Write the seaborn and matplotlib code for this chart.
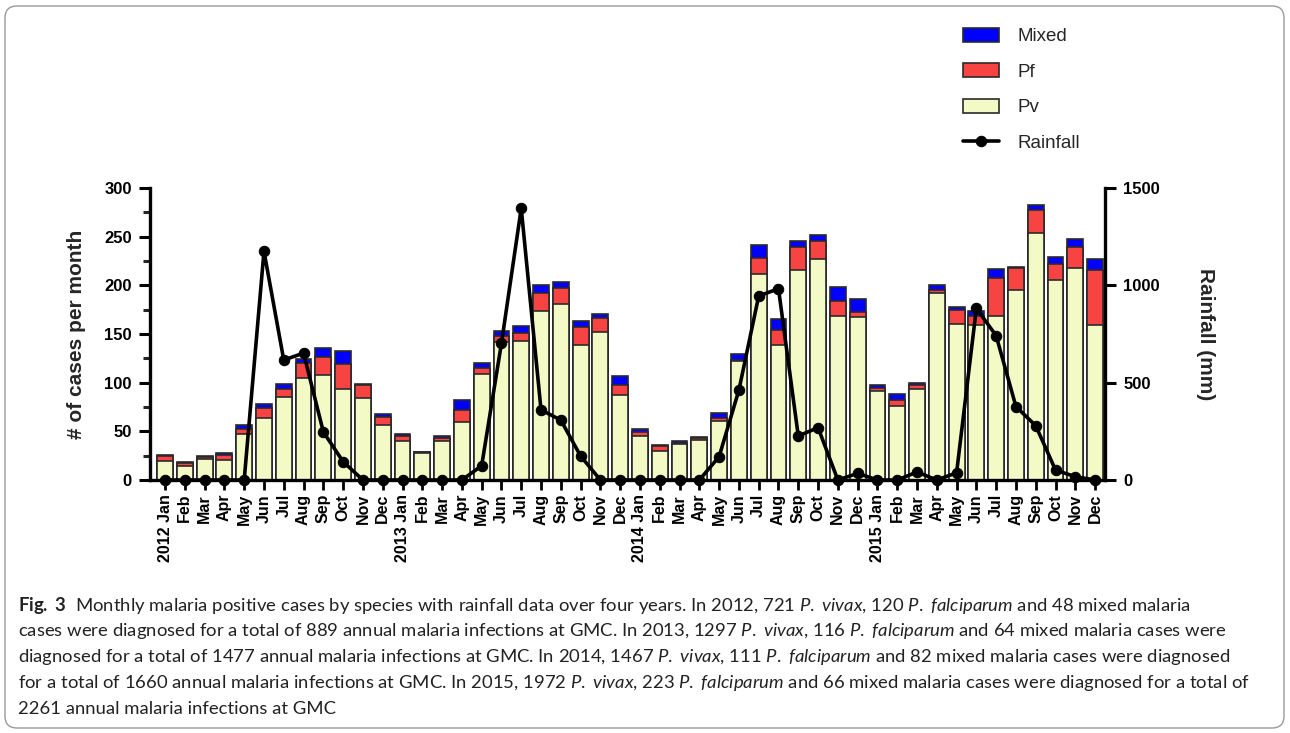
import numpy as np
import pandas as pd
import matplotlib
matplotlib.use("Agg")
import matplotlib.pyplot as plt
import seaborn as sns
from matplotlib.patches import FancyBboxPatch
from matplotlib.ticker import MultipleLocator

years = ["2012", "2013", "2014", "2015"]
months = ["Jan", "Feb", "Mar", "Apr", "May", "Jun",
          "Jul", "Aug", "Sep", "Oct", "Nov", "Dec"]

pv = [20, 14, 22, 21, 47, 64, 85, 105, 108, 93, 84, 56,
      40, 28, 40, 60, 109, 142, 143, 174, 181, 139, 152, 87,
      45, 30, 37, 41, 61, 122, 212, 139, 216, 227, 168, 167,
      91, 76, 94, 192, 160, 159, 168, 195, 254, 205, 218, 159]
pf = [5, 3, 2, 5, 5, 10, 9, 15, 18, 26, 14, 9,
      5, 1, 3, 12, 6, 6, 8, 18, 16, 18, 14, 11,
      4, 5, 1, 2, 3, 1, 16, 15, 23, 19, 16, 6,
      4, 6, 4, 3, 15, 10, 40, 23, 23, 17, 21, 57]
mixed = [1, 2, 1, 2, 4, 4, 5, 4, 10, 14, 1, 3,
         2, 0, 2, 10, 5, 5, 7, 8, 6, 6, 5, 9,
         3, 1, 2, 1, 5, 6, 13, 11, 7, 6, 14, 13,
         3, 6, 2, 5, 3, 5, 9, 1, 6, 7, 9, 11]
rainfall = [0, 0, 0, 0, 0, 1175, 616, 652, 247, 94, 0, 0,
            0, 0, 0, 0, 73, 702, 1396, 360, 308, 123, 0, 0,
            0, 0, 0, 0, 120, 462, 945, 983, 226, 269, 0, 34,
            0, 0, 41, 0, 37, 882, 741, 377, 279, 51, 17, 0]

tick_labels = [f"{y} {m}" if m == "Jan" else m for y in years for m in months]

PV = r"$\it{P.}$ $\it{vivax}$"
PF = r"$\it{P.}$ $\it{falciparum}$"
caption_lines = [
    r"$\bf{Fig.}$ $\bf{3}$  Monthly malaria positive cases by species with rainfall data over four years. In 2012, 721 " + PV + ", 120 " + PF + " and 48 mixed malaria",
    "cases were diagnosed for a total of 889 annual malaria infections at GMC. In 2013, 1297 " + PV + ", 116 " + PF + " and 64 mixed malaria cases were",
    "diagnosed for a total of 1477 annual malaria infections at GMC. In 2014, 1467 " + PV + ", 111 " + PF + " and 82 mixed malaria cases were diagnosed",
    "for a total of 1660 annual malaria infections at GMC. In 2015, 1972 " + PV + ", 223 " + PF + " and 66 mixed malaria cases were diagnosed for a total of",
    "2261 annual malaria infections at GMC",
]

sns.set_theme(style="white")
plt.rcParams['font.family'] = ['Liberation Sans', 'DejaVu Sans']
plt.rcParams['mathtext.fontset'] = 'custom'
plt.rcParams['mathtext.rm'] = 'Lato'
plt.rcParams['mathtext.it'] = 'Lato:italic'
plt.rcParams['mathtext.bf'] = 'Lato:bold'

df = pd.DataFrame({"idx": np.arange(len(pv)), "Pv": pv, "Pf": pf,
                   "Mixed": mixed, "rain": rainfall})
df["PvPf"] = df["Pv"] + df["Pf"]
df["Total"] = df["PvPf"] + df["Mixed"]

W, H = 1290, 733
fig = plt.figure(figsize=(W / 100, H / 100), dpi=100)
ax = fig.add_axes([150 / W, 1 - 480 / H, 955 / W, 292 / H])

common = dict(x="idx", ax=ax, width=0.8, edgecolor="#2a2a2a", linewidth=1.2,
              saturation=1, errorbar=None, zorder=2)
sns.barplot(data=df, y="Total", color="#0000FF", label="Mixed", **common)
sns.barplot(data=df, y="PvPf", color="#F84343", label="Pf", **common)
sns.barplot(data=df, y="Pv", color="#F4FAC6", label="Pv", **common)
if ax.get_legend() is not None:
    ax.get_legend().remove()

ax2 = ax.twinx()
sns.lineplot(data=df, x="idx", y="rain", ax=ax2, color="black", linewidth=2.6,
             marker="o", markersize=7.5, markeredgecolor="black", label="Rainfall",
             clip_on=False)
if ax2.get_legend() is not None:
    ax2.get_legend().remove()

ax.set_xlim(-0.76, 47.5)
ax.set_ylim(0, 300)
ax2.set_ylim(0, 1500)

for a in (ax, ax2):
    for s in a.spines.values():
        s.set_color("black")
        s.set_linewidth(2.4)
    a.spines["top"].set_visible(False)
ax.spines["right"].set_visible(False)
ax2.spines["left"].set_visible(False)
ax2.spines["bottom"].set_visible(False)

ax.yaxis.set_major_locator(MultipleLocator(50))
ax.yaxis.set_minor_locator(MultipleLocator(25))
ax.tick_params(axis="y", which="major", left=True, length=8, width=2.2,
               direction="out", labelsize=12, pad=5, colors="black")
ax.tick_params(axis="y", which="minor", left=True, length=5, width=2.2,
               direction="out")
ax2.yaxis.set_major_locator(MultipleLocator(500))
ax2.tick_params(axis="y", which="major", right=True, length=8, width=2.2,
                direction="out", labelsize=12, pad=5, colors="black")
for lab in ax.get_yticklabels() + ax2.get_yticklabels():
    lab.set_fontweight("bold")

ax.set_xticks(np.arange(len(tick_labels)))
ax.set_xticklabels(tick_labels, rotation=90, fontweight="bold", fontsize=11.5)
ax.tick_params(axis="x", bottom=True, length=7, width=2.0, direction="out",
               pad=3, colors="black")
ax.set_xlabel("")

ax.set_ylabel("# of cases per month", fontsize=15, fontweight="bold")
ax.yaxis.set_label_coords(-0.067, 0.5)
ax2.set_ylabel("Rainfall (mm)", fontsize=15, fontweight="bold", rotation=270,
               va="center", ha="center")
ax2.yaxis.set_label_coords(1.105, 0.5)

handles = [ax.containers[0], ax.containers[1], ax.containers[2], ax2.lines[0]]
fig.legend(handles, ["Mixed", "Pf", "Pv", "Rainfall"], loc="upper left",
           bbox_to_anchor=(955 / W, 1 - 20 / H), frameon=False, fontsize=13.5,
           handlelength=1.95, handleheight=0.8, labelspacing=0.95,
           handletextpad=1.0, borderaxespad=0)

for i, line in enumerate(caption_lines):
    y = [605, 631, 657, 683, 709][i]
    fig.text(18 / W, 1 - y / H, line, fontsize=13.3, family="Lato",
             va="center", ha="left", color="#222222")

border = FancyBboxPatch((0.05, 0.05), 12.79, 7.22,
                        boxstyle="round,pad=0,rounding_size=0.12",
                        transform=fig.dpi_scale_trans, fill=False,
                        edgecolor="#9a9a9a", linewidth=1.0)
fig.patches.append(border)

fig.savefig("out.png", dpi=100)
